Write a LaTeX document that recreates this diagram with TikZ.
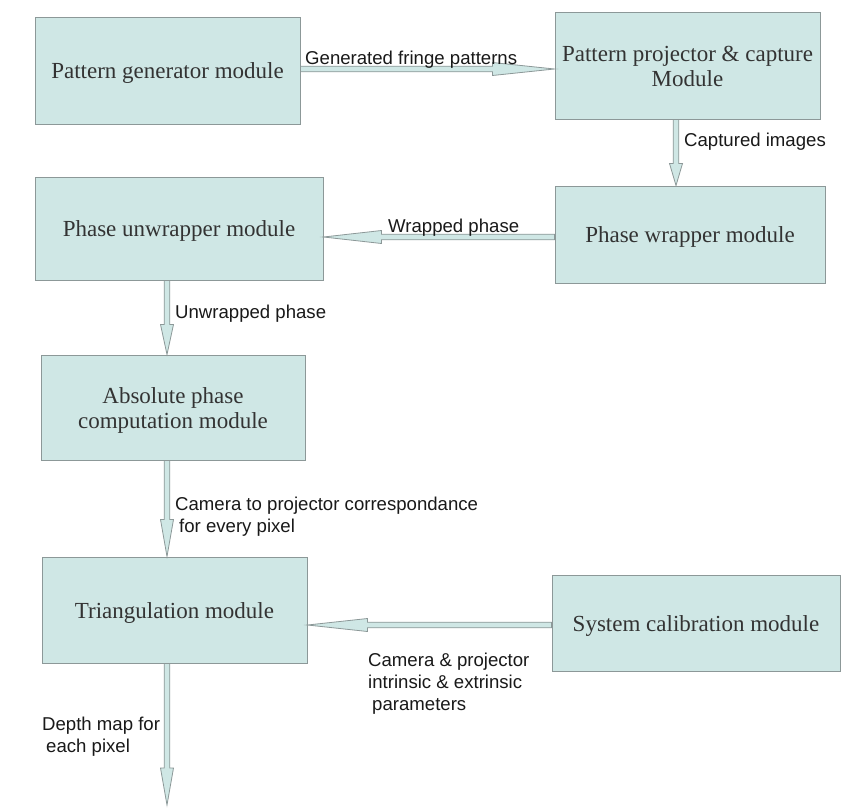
\documentclass[tikz,border=0pt]{standalone}
\usepackage{fontspec}
\setmainfont{Liberation Serif}
\newfontfamily\labfont{Liberation Sans}
\usetikzlibrary{calc}
\definecolor{boxfill}{RGB}{207,231,229}
\definecolor{boxline}{RGB}{140,152,152}
\definecolor{boxtext}{RGB}{51,51,51}
\definecolor{labtext}{RGB}{25,25,25}
\tikzset{
  module/.style={draw=boxline, line width=1pt, fill=boxfill, text=boxtext,
    font=\fontsize{23}{25}\selectfont, inner sep=0pt},
  lab/.style={font=\labfont\fontsize{18.6}{22}\selectfont, text=labtext, inner sep=0pt, align=left},
  barrow/.style={draw=boxline, line width=0.8pt, fill=boxfill, line join=miter}
}
\newcommand\boxtxt[1]{\raisebox{-3pt}[\height][\depth]{\begin{tabular}{@{}c@{}}#1\end{tabular}}}
% #1 start, #2 end, #3 head length
\newcommand\blockarrow[3]{%
  \coordinate (hh) at ($(#2)!#3!(#1)$);
  \filldraw[barrow] ($(#1)!2.8pt!90:(#2)$) -- ($(hh)!2.8pt!-90:(#1)$) -- ($(hh)!6.5pt!-90:(#1)$)
    -- (#2) -- ($(hh)!6.5pt!90:(#1)$) -- ($(hh)!2.8pt!90:(#1)$) -- ($(#1)!2.8pt!-90:(#2)$) -- cycle;
}
\begin{document}
\begin{tikzpicture}[x=1pt,y=-1pt]
\useasboundingbox (0,0) rectangle (850,811);
\fill[white] (0,0) rectangle (850,811);

\node[module, minimum width=265pt, minimum height=107pt] (g) at (167.5,70.5) {\boxtxt{Pattern generator module}};
\node[module, minimum width=265pt, minimum height=107pt] (p) at (687.5,65.5) {\boxtxt{Pattern projector \& capture\\Module}};
\node[module, minimum width=270pt, minimum height=97pt] (w) at (690,234.5) {\boxtxt{Phase wrapper module}};
\node[module, minimum width=288pt, minimum height=103pt] (u) at (179,228.5) {\boxtxt{Phase unwrapper module}};
\node[module, minimum width=264pt, minimum height=105pt] (a) at (173,407.5) {\boxtxt{Absolute phase\\computation module}};
\node[module, minimum width=265pt, minimum height=106pt] (t) at (174.5,610) {\boxtxt{Triangulation module}};
\node[module, minimum width=288pt, minimum height=96pt] (c) at (696,623) {\boxtxt{System calibration module}};

% arrows
\coordinate (a1s) at ([yshift=1.5pt]g.east);
\coordinate (a1e) at (a1s -| p.west);
\blockarrow{a1s}{a1e}{62pt}

\coordinate (a2s) at ([xshift=-11.5pt]p.south);
\coordinate (a2e) at (a2s |- w.north);
\blockarrow{a2s}{a2e}{22pt}

\coordinate (a3s) at ([yshift=-2.5pt]w.west);
\coordinate (a3e) at (a3s -| u.east);
\blockarrow{a3s}{a3e}{58pt}

\coordinate (a4s) at ([xshift=-12pt]u.south);
\coordinate (a4e) at (a4s |- a.north);
\blockarrow{a4s}{a4e}{30pt}

\coordinate (a5s) at ([xshift=-6pt]a.south);
\coordinate (a5e) at (a5s |- t.north);
\blockarrow{a5s}{a5e}{37pt}

\coordinate (a6s) at ([yshift=-2pt]c.west);
\coordinate (a6e) at (a6s -| t.east);
\blockarrow{a6s}{a6e}{60pt}

\coordinate (a7s) at ([xshift=-7.5pt]t.south);
\coordinate (a7e) at (a7s |- 0,805);
\blockarrow{a7s}{a7e}{37pt}

% labels
\node[lab, anchor=base west] (l1) at (305,64) {Generated fringe patterns};
\node[lab, anchor=base west] (l2) at (684,146) {Captured images};
\node[lab, anchor=base west] (l3) at (388,232) {Wrapped phase};
\node[lab, anchor=base west] (l4) at (175,318) {Unwrapped phase};
\node[lab, anchor=north west] (l5) at (175,497) {Camera to projector correspondance\\\hspace*{4pt}for every pixel};
\node[lab, anchor=north west] (l6) at (368,653) {Camera \& projector\\intrinsic \& extrinsic\\\hspace*{4pt}parameters};
\node[lab, anchor=north west] (l7) at (42,717) {Depth map for\\\hspace*{4pt}each pixel};
\end{tikzpicture}
\end{document}
